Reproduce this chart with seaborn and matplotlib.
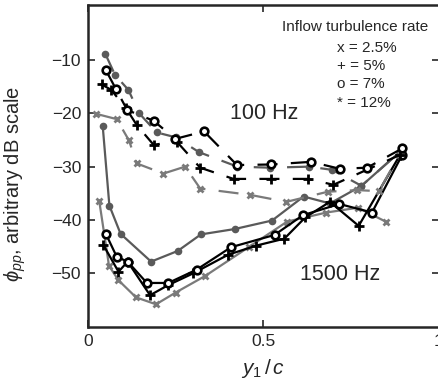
import matplotlib
matplotlib.use("Agg")
import matplotlib.pyplot as plt
import seaborn as sns

# ---------------- data ----------------
# 100 Hz, dashed curves
x_100_25 = [0.023, 0.082, 0.117, 0.139, 0.215, 0.277, 0.320, 0.463, 0.566, 0.684, 0.768, 0.830, 0.890]
y_100_25 = [-20.1, -21.1, -25.1, -29.4, -31.3, -30.0, -34.1, -35.3, -36.6, -34.7, -34.4, -34.6, -27.5]

x_100_5 = [0.039, 0.066, 0.109, 0.139, 0.187, 0.253, 0.320, 0.415, 0.522, 0.627, 0.700, 0.890]
y_100_5 = [-14.6, -15.6, -19.1, -22.2, -25.9, -25.3, -30.2, -32.3, -32.3, -32.3, -33.4, -27.8]

x_100_7 = [0.050, 0.080, 0.112, 0.187, 0.249, 0.331, 0.425, 0.522, 0.636, 0.718, 0.796, 0.896]
y_100_7 = [-11.8, -15.5, -19.4, -21.4, -24.8, -23.4, -29.7, -29.6, -29.1, -30.4, -30.2, -26.6]

x_100_12 = [0.049, 0.077, 0.115, 0.146, 0.196, 0.250, 0.317, 0.426, 0.520, 0.630, 0.696, 0.780, 0.890]
y_100_12 = [-8.8, -12.8, -15.6, -20.0, -23.6, -24.5, -27.3, -30.0, -30.2, -30.0, -30.6, -33.6, -27.2]

# 1500 Hz, solid curves
x_1500_25 = [0.032, 0.060, 0.087, 0.137, 0.194, 0.250, 0.334, 0.458, 0.568, 0.680, 0.770, 0.849]
y_1500_25 = [-36.4, -48.6, -51.3, -54.5, -55.8, -53.6, -50.5, -45.1, -40.3, -38.6, -37.7, -40.3]

x_1500_5 = [0.044, 0.087, 0.113, 0.177, 0.229, 0.300, 0.400, 0.480, 0.560, 0.620, 0.690, 0.772, 0.890]
y_1500_5 = [-44.7, -49.7, -47.8, -54.1, -52.2, -50.0, -46.5, -44.8, -43.5, -39.5, -36.6, -41.1, -27.8]

x_1500_7 = [0.051, 0.082, 0.113, 0.168, 0.229, 0.310, 0.408, 0.532, 0.613, 0.717, 0.810, 0.896]
y_1500_7 = [-42.6, -46.9, -47.8, -51.8, -51.8, -49.3, -45.1, -42.8, -39.1, -37.0, -38.6, -27.8]

x_1500_12 = [0.042, 0.061, 0.093, 0.180, 0.256, 0.322, 0.418, 0.525, 0.615, 0.690, 0.780, 0.890]
y_1500_12 = [-22.4, -37.3, -42.6, -47.8, -45.8, -42.7, -41.7, -40.1, -35.6, -36.9, -33.6, -27.2]

legend_lines = ["x = 2.5%", "+ = 5%", "o = 7%", "* = 12%"]
x_ticks = [0, 0.5, 1]
x_tick_labels = ["0", "0.5", "1"]
y_ticks = [-50, -40, -30, -20, -10]

# ---------------- style ----------------
sns.set_style("ticks")
plt.rcParams["font.family"] = ["Liberation Sans", "DejaVu Sans"]
plt.rcParams["mathtext.fontset"] = "custom"
plt.rcParams["mathtext.rm"] = "Liberation Sans"
plt.rcParams["mathtext.it"] = "Liberation Sans:italic"

fig = plt.figure(figsize=(4.38, 3.84), dpi=100)
ax = fig.add_axes([0.2009, 0.1492, 0.8005, 0.8365])

GREY_L = "#7a7a7a"
GREY_D = "#5a5a5a"
DASH = (0, (9, 6))

styles = {
    "25": dict(color=GREY_L, marker="x", ms=4.5, mew=2.0, mec=GREY_L, lw=1.6),
    "12": dict(color=GREY_D, marker="o", ms=5.5, mew=0.0, mec=GREY_D, mfc=GREY_D, lw=1.6),
    "5": dict(color="black", marker="+", ms=7, mew=2.0, mec="black", lw=1.6),
    "7": dict(color="black", marker="o", ms=5.5, mew=1.9, mec="black", mfc="white", lw=1.6),
}

series = [
    (x_1500_12, y_1500_12, "12", "-"),
    (x_1500_25, y_1500_25, "25", "-"),
    (x_1500_5, y_1500_5, "5", "-"),
    (x_1500_7, y_1500_7, "7", "-"),
    (x_100_12, y_100_12, "12", DASH),
    (x_100_25, y_100_25, "25", DASH),
    (x_100_5, y_100_5, "5", DASH),
    (x_100_7, y_100_7, "7", DASH),
]

for xs, ys, key, ls in series:
    st = dict(styles[key])
    sns.lineplot(x=xs, y=ys, ax=ax, sort=False, estimator=None,
                 linestyle=ls, **st)

ax.set_xlim(0, 1)
ax.set_ylim(-60, 0.2)
ax.set_xticks(x_ticks)
ax.set_xticklabels(x_tick_labels)
ax.set_yticks(y_ticks)
ax.tick_params(direction="in", length=5, width=1.2, top=True, right=True,
               labelsize=12.5, pad=5)
for sp in ax.spines.values():
    sp.set_linewidth(1.8)
    sp.set_visible(True)

ax.set_xlabel(r"$y_1\,/\,c$", fontsize=15, labelpad=6)
ax.set_ylabel(r"$\phi_{pp}$, arbitrary dB scale", fontsize=14.5)
ax.yaxis.set_label_coords(-0.17, 0.445)

ax.text(0.554, -3.8, "Inflow turbulence rate", fontsize=11, ha="left", va="center")
for i, t in enumerate(legend_lines):
    ax.text(0.709, -7.7 - 3.45 * i, t, fontsize=11, ha="left", va="center")
ax.text(0.406, -20.1, "100 Hz", fontsize=15.5, ha="left", va="center")
ax.text(0.606, -50.2, "1500 Hz", fontsize=15.5, ha="left", va="center")

fig.savefig("out.png", dpi=100)
